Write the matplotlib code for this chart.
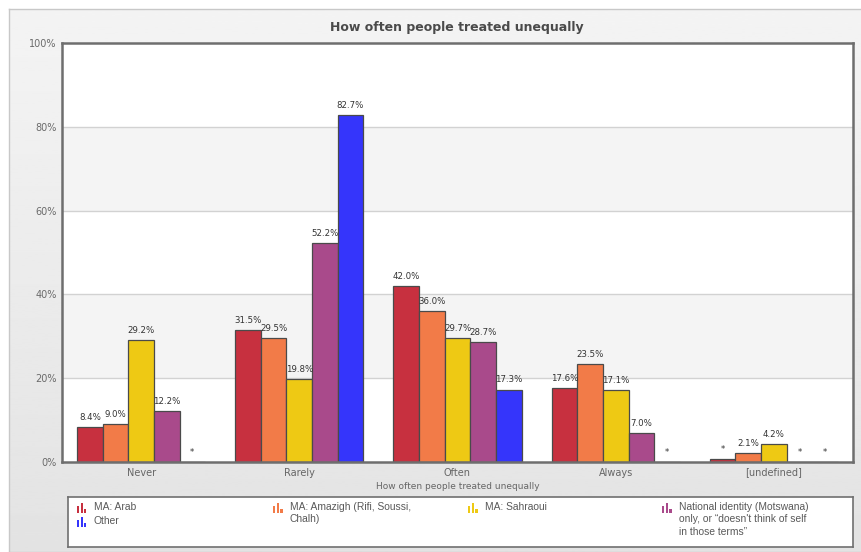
import numpy as np
import matplotlib
matplotlib.use("Agg")
import matplotlib.pyplot as plt
from matplotlib.patches import Rectangle

# ---- data (percent; nan = no bar, shown as "*") ----
categories = ["Never", "Rarely", "Often", "Always", "[undefined]"]
series_names = ["MA: Arab", "MA: Amazigh (Rifi, Soussi,\nChalh)", "MA: Sahraoui",
                "National identity (Motswana)\nonly, or \u201cdoesn't think of self\nin those terms\u201d",
                "Other"]
arab = [8.4, 31.5, 42.0, 17.6, 0.7]
amazigh = [9.0, 29.5, 36.0, 23.5, 2.1]
sahraoui = [29.2, 19.8, 29.7, 17.1, 4.2]
national = [12.2, 52.2, 28.7, 7.0, np.nan]
other = [np.nan, 82.7, 17.3, np.nan, np.nan]
# values too small to report get a "*" instead of a number
suppressed = [
    [False, False, False, False, True],
    [False] * 5,
    [False] * 5,
    [False, False, False, False, True],
    [True, False, False, True, True],
]
colors = ["#c7303f", "#f27b48", "#eec914", "#a94a8b", "#3535fb"]

series = [arab, amazigh, sahraoui, national, other]

W, H = 862, 552
fig = plt.figure(figsize=(W / 100, H / 100), dpi=100)
fig.patch.set_facecolor("white")

# grey gradient panel behind everything
bg = fig.add_axes([9 / W, 0, 1 - 9 / W, 1 - 9 / H], zorder=-10)
grad = np.linspace(0.955, 0.89, 256).reshape(-1, 1)
bg.imshow(grad, aspect="auto", cmap="gray", vmin=0, vmax=1, extent=[0, 1, 0, 1])
bg.set_xlim(0, 1)
bg.set_ylim(0, 1)
bg.set_xticks([])
bg.set_yticks([])
for s in bg.spines.values():
    s.set_color("#c8c8c8")
    s.set_linewidth(1)

ax = fig.add_axes([62 / W, 1 - 462 / H, (853 - 62) / W, (462 - 43) / H])
ax.set_facecolor("white")
ax.set_xlim(-0.5, len(categories) - 0.5)
ax.set_ylim(0, 100)

# alternating bands and gridlines
for lo in (20, 60):
    ax.axhspan(lo, lo + 20, color="#f4f4f4", zorder=0, lw=0)
for y in (20, 40, 60, 80):
    ax.axhline(y, color="#d2d2d2", lw=1, zorder=0.5)

x = np.arange(len(categories))
bw = 0.162
n = len(series)
for i, (vals, col) in enumerate(zip(series, colors)):
    xs = x + (i - (n - 1) / 2) * bw
    v = np.array(vals, dtype=float)
    ax.bar(xs, np.nan_to_num(v), width=bw, color=col, edgecolor="#4a4a4a",
           linewidth=0.9, zorder=2)
    for xi, vi, sup in zip(xs, v, suppressed[i]):
        h = 0 if np.isnan(vi) else vi
        txt = "*" if sup else f"{vi:.1f}%"
        ax.text(xi, h + 1.2, txt, ha="center", va="bottom", fontsize=6.2,
                color="#333333", zorder=3)

ax.set_yticks([0, 20, 40, 60, 80, 100])
ax.set_yticklabels([f"{t}%" for t in range(0, 101, 20)], fontsize=7, color="#6a6a6a")
ax.set_xticks(x)
ax.set_xticklabels(categories, fontsize=7, color="#666666")
ax.tick_params(length=0, pad=4)
for s in ax.spines.values():
    s.set_color("#6e6e6e")
    s.set_linewidth(1.8)
ax.set_xlabel("How often people treated unequally", fontsize=6.5, color="#666666",
              labelpad=3)

fig.text(457 / W, 1 - 28 / H, "How often people treated unequally", ha="center",
         va="center", fontsize=9, fontweight="bold", color="#4a4a4a")

# legend box with small bar-chart glyphs
lg = fig.add_axes([68 / W, 1 - 547 / H, (853 - 68) / W, (547 - 497) / H])
lg.set_xlim(68, 853)
lg.set_ylim(547, 497)
lg.set_xticks([])
lg.set_yticks([])
lg.set_facecolor("white")
for s in lg.spines.values():
    s.set_color("#707070")
    s.set_linewidth(1.2)

slots = [(77, 508), (273, 508), (468, 508), (662, 508), (77, 522)]
for (lx, ly), name, col in zip(slots, series_names, colors):
    for k, hh in enumerate((7, 9.5, 4)):
        lg.add_patch(Rectangle((lx + k * 3.6, ly + 4.5 - hh), 2.3, hh,
                               color=col, lw=0))
    lg.text(lx + 17, ly - 6, name, fontsize=7.4, color="#595959", va="top",
            ha="left", linespacing=1.3, family="Liberation Sans")

fig.savefig("out.png", dpi=100)
